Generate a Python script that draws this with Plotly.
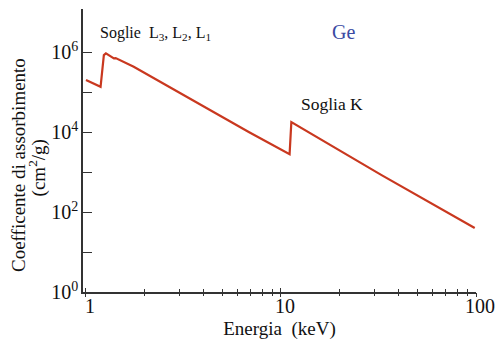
import plotly.graph_objects as go

# Mass absorption coefficient of germanium vs photon energy
energy_kev = [1.0, 1.188, 1.235, 1.265, 1.39, 1.42, 1.757, 6.87, 11.07, 11.3, 32.8, 98.5]
mu_cm2_g = [2.02e5, 1.37e5, 8.56e5, 9.44e5, 7.08e5, 7.2e5, 4.36e5, 1.0e4, 2.83e3, 1.79e4, 841, 40.2]

x_tick_vals = [1, 10, 100]
x_tick_text = ["1", "10", "100"]
x_minor_vals = [2, 3, 4, 5, 6, 7, 8, 9, 20, 30, 40, 50, 60, 70, 80, 90]
y_tick_vals = [1, 10, 1e2, 1e3, 1e4, 1e5, 1e6]
y_tick_text = ["10<sup>0</sup>", "", "10<sup>2</sup>", "", "10<sup>4</sup>", "", "10<sup>6</sup>"]

SERIF = "Liberation Serif, Times New Roman, serif"
AXIS_COLOR = "#333333"
X_RANGE = [-0.0153, 2.0]
Y_RANGE = [0, 7.085]

fig = go.Figure()
fig.add_trace(go.Scatter(
    x=energy_kev, y=mu_cm2_g, mode="lines",
    line=dict(color="#c9381f", width=2.2),
    hoverinfo="skip", showlegend=False,
))
# companion trace so the overlaid axis (outer tick halves) is drawn
fig.add_trace(go.Scatter(
    x=[10], y=[10], xaxis="x2", mode="markers",
    marker=dict(opacity=0), hoverinfo="skip", showlegend=False,
))

fig.update_layout(
    width=504, height=349,
    margin=dict(l=83, r=26, t=9, b=57),
    paper_bgcolor="white", plot_bgcolor="white",
    font=dict(family=SERIF, color="#111111"),
    xaxis=dict(
        type="log", range=X_RANGE,
        showgrid=False, zeroline=False,
        showline=True, linecolor=AXIS_COLOR, linewidth=1.5,
        tickmode="array", tickvals=x_tick_vals, ticktext=x_tick_text,
        ticks="inside", ticklen=4, tickwidth=1.3, tickcolor=AXIS_COLOR,
        minor=dict(tickmode="array", tickvals=x_minor_vals, ticks="inside",
                   ticklen=3, tickwidth=1.2, tickcolor=AXIS_COLOR, showgrid=False),
        tickfont=dict(family=SERIF, size=20, color="#111111"),
        ticklabelshift=4,
        ticklabelstandoff=-5,
        title=dict(text="Energia  (keV)", font=dict(family=SERIF, size=19, color="#111111"),
                   standoff=6),
    ),
    xaxis2=dict(
        type="log", range=X_RANGE, overlaying="x", anchor="y", side="bottom",
        showgrid=False, zeroline=False, showline=False, showticklabels=False,
        tickmode="array", tickvals=x_tick_vals,
        ticks="outside", ticklen=4, tickwidth=1.3, tickcolor=AXIS_COLOR,
        minor=dict(tickmode="array", tickvals=x_minor_vals, ticks="outside",
                   ticklen=3, tickwidth=1.2, tickcolor=AXIS_COLOR, showgrid=False),
    ),
    yaxis=dict(
        type="log", range=Y_RANGE,
        showgrid=False, zeroline=False,
        showline=True, linecolor=AXIS_COLOR, linewidth=1.5,
        tickmode="array", tickvals=y_tick_vals, ticktext=y_tick_text,
        ticks="inside", ticklen=9, tickwidth=1.3, tickcolor=AXIS_COLOR,
        tickfont=dict(family=SERIF, size=20, color="#111111"),
        ticklabelstandoff=-1,
    ),
)

annotations = [
    dict(text="Coefficente di assorbimento", x=(17.5 - 83) / 395, y=(291.7 - 165) / 282.7,
         textangle=-90, font=dict(size=19)),
    dict(text="(cm<sup>2</sup>/g)", x=(37 - 83) / 395, y=(291.7 - 168) / 282.7,
         textangle=-90, font=dict(size=19)),
    dict(text="Soglie  L<sub>3</sub>, L<sub>2</sub>, L<sub>1</sub>",
         x=(156 - 83) / 395, y=(291.7 - 33) / 282.7, font=dict(size=16)),
    dict(text="Ge", x=(344.5 - 83) / 395, y=(291.7 - 32) / 282.7,
         font=dict(size=20, color="#3b4aa3")),
    dict(text="Soglia K", x=(333 - 83) / 395, y=(291.7 - 104) / 282.7, font=dict(size=17.5)),
]
for a in annotations:
    a.update(xref="paper", yref="paper", showarrow=False, xanchor="center", yanchor="middle")
    a["font"] = dict(family=SERIF, color=a["font"].get("color", "#111111"), size=a["font"]["size"])
fig.update_layout(annotations=annotations)

fig.write_html("out.html")
